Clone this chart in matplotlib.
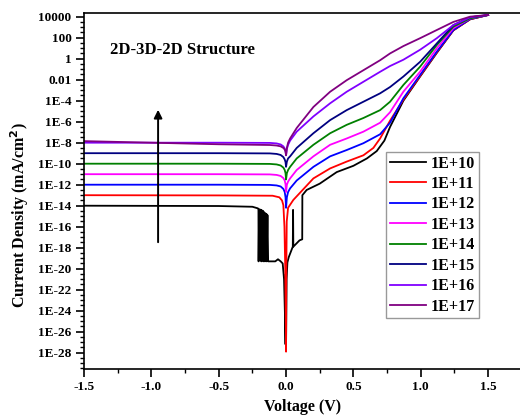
import numpy as np
import matplotlib
matplotlib.use("Agg")
import matplotlib.pyplot as plt
from matplotlib.ticker import FixedLocator, FixedFormatter, NullFormatter

# Doping levels (legend labels) and line colours
labels = ["1E+10", "1E+11", "1E+12", "1E+13", "1E+14", "1E+15", "1E+16", "1E+17"]
colors = ["#000000", "#FF0000", "#0000FF", "#FF00FF", "#008000", "#000080", "#8000FF", "#800080"]

# Voltage (V) and log10 of current density (mA/cm^2) for each doping level
v_1e10 = [-1.5, -0.5, -0.25, -0.21, -0.205, -0.204, -0.2, -0.185, -0.184, -0.181, -0.17, -0.169, -0.165,
          -0.158, -0.157, -0.152, -0.145, -0.144, -0.138, -0.133, -0.12, -0.08, -0.06,
          -0.04, -0.025, -0.015, -0.008, -0.004, -0.002, 0.0, 0.004, 0.01, 0.02, 0.05, 0.052, 0.054, 0.1,
          0.12, 0.121, 0.153, 0.25, 0.376, 0.5, 0.6, 0.673, 0.73, 0.772, 0.871, 0.995, 1.119, 1.242, 1.366, 1.5]
lj_1e10 = [-14.0, -14.03, -14.1, -14.25, -14.3, -19.3, -14.35, -14.4, -19.3, -14.45, -14.5, -19.3, -14.6,
           -14.7, -19.3, -14.75, -14.8, -19.3, -14.9, -19.3, -19.3, -19.3, -19.1,
           -19.3, -19.5, -21.0, -24.5, -27.2, -20.5, -27.3, -21.0, -19.4, -18.9, -17.9, -14.4, -17.9, -17.3,
           -17.2, -13.0, -12.5, -11.9, -10.8, -10.2, -9.5, -8.8, -7.8, -6.5, -4.0, -1.7, 0.55, 2.7, 3.75, 4.16]

v_1e11 = [-1.5, -0.5, -0.1, -0.05, -0.03, -0.02, -0.012, -0.006, 0.0, 0.002, 0.005, 0.015, 0.054,
          0.203, 0.327, 0.45, 0.574, 0.648, 0.698, 0.772, 0.871, 0.995, 1.119, 1.242, 1.366, 1.5]
lj_1e11 = [-13.0, -13.02, -13.05, -13.2, -13.5, -13.95, -16.0, -20.0, -27.9, -20.0, -15.5, -14.2, -13.45,
           -11.4, -10.45, -9.8, -9.2, -8.5, -7.6, -5.9, -3.9, -1.65, 0.6, 2.7, 3.75, 4.16]

v_rev = [-1.5, -0.5, -0.12, -0.07, -0.04, -0.02, -0.01, -0.004, 0.0]
v_fwd = [0.006, 0.015, 0.03, 0.079, 0.203, 0.327, 0.45, 0.574, 0.698, 0.772, 0.871, 0.995, 1.119, 1.242,
         1.366, 1.5]

lj_1e12_rev = [-12.0, -12.0, -12.02, -12.07, -12.17, -12.4, -12.7, -13.2, -14.2]
lj_1e12_fwd = [-13.2, -12.7, -12.35, -11.6, -10.3, -9.3, -8.7, -8.05, -7.2, -6.1, -3.77, -1.55, 0.67, 2.73,
               3.78, 4.16]

lj_1e13_rev = [-11.0, -11.0, -11.02, -11.07, -11.17, -11.37, -11.6, -11.95, -12.7]
lj_1e13_fwd = [-12.0, -11.7, -11.4, -10.6, -9.3, -8.2, -7.6, -6.95, -6.1, -5.1, -3.14, -1.24, 0.99, 2.9,
               3.84, 4.16]

lj_1e14_rev = [-10.0, -10.0, -10.02, -10.07, -10.17, -10.37, -10.6, -10.9, -11.5]
lj_1e14_fwd = [-10.9, -10.6, -10.3, -9.5, -8.2, -7.1, -6.3, -5.65, -4.9, -4.1, -2.5, -0.76, 1.3, 3.05,
               3.84, 4.16]

lj_1e15_rev = [-9.0, -9.0, -9.02, -9.07, -9.17, -9.37, -9.6, -9.85, -10.3]
lj_1e15_fwd = [-9.8, -9.5, -9.3, -8.5, -7.1, -5.85, -4.9, -4.1, -3.3, -2.7, -1.7, -0.3, 1.45, 3.2,
               3.94, 4.16]

lj_1e16_rev = [-8.0, -8.0, -8.02, -8.07, -8.17, -8.35, -8.55, -8.8, -9.2]
lj_1e16_fwd = [-8.6, -8.2, -7.8, -6.95, -5.5, -4.25, -3.15, -2.2, -1.25, -0.7, -0.1, 0.85, 1.95, 3.2,
               3.94, 4.16]

lj_1e17_rev = [-7.85, -8.15, -8.22, -8.27, -8.35, -8.5, -8.65, -8.85, -9.2]
lj_1e17_fwd = [-8.5, -8.0, -7.6, -6.6, -4.6, -3.15, -2.05, -1.1, -0.15, 0.5, 1.2, 1.95, 2.73, 3.5,
               4.0, 4.16]

series = [
    (v_1e10, lj_1e10),
    (v_1e11, lj_1e11),
    (v_rev + v_fwd, lj_1e12_rev + lj_1e12_fwd),
    (v_rev + v_fwd, lj_1e13_rev + lj_1e13_fwd),
    (v_rev + v_fwd, lj_1e14_rev + lj_1e14_fwd),
    (v_rev + v_fwd, lj_1e15_rev + lj_1e15_fwd),
    (v_rev + v_fwd, lj_1e16_rev + lj_1e16_fwd),
    (v_rev + v_fwd, lj_1e17_rev + lj_1e17_fwd),
]

serif = ["Liberation Serif", "DejaVu Serif"]
plt.rcParams["font.family"] = serif
plt.rcParams["font.weight"] = "bold"

W, H = 520, 418
fig = plt.figure(figsize=(W / 100, H / 100), dpi=100)
ax = fig.add_axes([84 / W, (H - 369) / H, 437.8 / W, 356 / H])

for (v, lj), c, lab in zip(series, colors, labels):
    ax.plot(v, np.power(10.0, lj), color=c, lw=1.3, label=lab, solid_joinstyle="round")

ax.set_yscale("log")
ax.set_xlim(-1.5, 1.75)
ax.set_ylim(10 ** -29.55, 10 ** 4.35)

# Axis ticks
major_exp = np.arange(-28, 5, 2)
ylabels = []
for e in major_exp:
    if e == 4:
        ylabels.append("10000")
    elif e == 2:
        ylabels.append("100")
    elif e == 0:
        ylabels.append("1")
    elif e == -2:
        ylabels.append("0.01")
    else:
        ylabels.append("1E%d" % e)
ax.yaxis.set_major_locator(FixedLocator(10.0 ** major_exp))
ax.yaxis.set_major_formatter(FixedFormatter(ylabels))
minor_exp = [e for e in np.arange(-29.5, 4.5, 0.5) if e not in set(major_exp)]
ax.yaxis.set_minor_locator(FixedLocator(10.0 ** np.array(minor_exp)))
ax.yaxis.set_minor_formatter(NullFormatter())

xt = [-1.5, -1.0, -0.5, 0.0, 0.5, 1.0, 1.5]
ax.set_xticks(xt)
ax.set_xticklabels(["%.1f" % t for t in xt])
ax.set_xticks([-1.25, -0.75, -0.25, 0.25, 0.75, 1.25, 1.75], minor=True)

ax.tick_params(which="major", direction="out", length=5.5, width=1.2, labelsize=9.5, pad=3.5)
ax.tick_params(which="minor", direction="out", length=3, width=1.0)
ax.tick_params(axis="x", which="both", top=False)
ax.tick_params(axis="y", which="both", right=False)
for s in ax.spines.values():
    s.set_linewidth(1.2)

ax.set_xlabel("Voltage (V)", fontsize=11.5, fontweight="bold", labelpad=4)
ax.set_ylabel("Current Density (mA/cm$^\\mathbf{2}$)", fontsize=11.5, fontweight="bold")
ax.yaxis.set_label_coords(-0.12, 0.433)

ax.text(0.059, 0.896, "2D-3D-2D Structure", transform=ax.transAxes, fontsize=12,
        fontweight="bold", ha="left", va="center")

# Arrow showing increasing doping
ax.annotate("", xy=(-0.95, 10 ** -4.6), xytext=(-0.95, 10 ** -17.74),
            arrowprops=dict(arrowstyle="-|>", color="black", lw=1.4, mutation_scale=12))

leg = ax.legend(loc="upper left", bbox_to_anchor=(386 / W, 1 - 152 / H), bbox_transform=fig.transFigure,
                frameon=True, fancybox=False, fontsize=11.5, handlelength=2.3, handletextpad=0.3,
                labelspacing=0.28, borderpad=0.22, borderaxespad=0)
leg.get_frame().set_edgecolor("#808080")
leg.get_frame().set_linewidth(1.0)
for t in leg.get_texts():
    t.set_fontweight("bold")

fig.savefig("out.png", dpi=100)
